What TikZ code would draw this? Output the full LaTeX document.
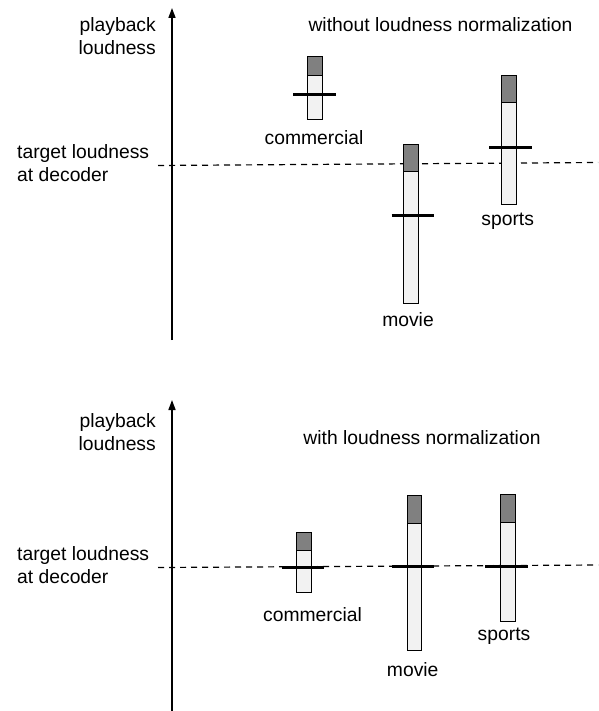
\documentclass[tikz,border=0pt]{standalone}
\usepackage{fontspec}
\setmainfont{Liberation Sans}
\usetikzlibrary{arrows.meta}
\definecolor{barlight}{HTML}{F2F2F2}
\definecolor{bardark}{HTML}{808080}
\tikzset{
    axis line/.style={
        line width=1.6pt,
        -{Triangle[length=10pt,width=7pt]}
    },
    target line/.style={
        line width=1.2pt,
        dash pattern=on 6pt off 5pt
    },
    bar head/.style={draw=black, line width=0.9pt, fill=bardark},
    bar body/.style={draw=black, line width=0.9pt, fill=barlight},
    level tick/.style={line width=3pt},
    label text/.style={
        font=\fontsize{19.3}{23}\selectfont,
        inner sep=0pt
    }
}
% left, right, top, split, bottom, tick y, tick left, tick right
\newcommand\loudbar[8]{
    \draw [bar head] (#1,#3) rectangle (#2,#4);
    \draw [bar body] (#1,#4) rectangle (#2,#5);
    \draw [level tick] (#7,#6) -- (#8,#6);
}

\begin{document}
\begin{tikzpicture}[x=1pt, y=-1pt]
                \useasboundingbox (0,0) rectangle (598,711);

                % without normalization
                \coordinate (axA-bot) at (172, 340);
                \coordinate (axA-top) at (172, 8);
                \coordinate (tgA-left) at (158, 165.5);
                \coordinate (tgA-right) at (598, 162.5);

                \node [label text, anchor=east, align=right] (yA) at (156, 36.5) {playback\\loudness};
                \node [label text, anchor=west, align=left] (tA) at (17, 163) {target loudness\\at decoder};
                \node [label text] (titleA) at (440.5, 25) {without loudness normalization};

                \draw [target line] (tgA-left) -- (tgA-right);
                \draw [axis line] (axA-bot) -- (axA-top);

                \loudbar{307.3}{322}{56.7}{75}{119}{94.3}{293}{336}
                \loudbar{403.7}{418.7}{144}{171.7}{303}{215.7}{391.7}{434.3}
                \loudbar{501.7}{516}{75}{102}{204}{147.7}{489}{531.7}

                \node [label text] (comA) at (314, 137.7) {commercial};
                \node [label text] (movA) at (408, 320) {movie};
                \node [label text] (spoA) at (507.7, 221.7) {sports};

                % with normalization
                \coordinate (axB-bot) at (172, 711);
                \coordinate (axB-top) at (172, 400);
                \coordinate (tgB-left) at (158, 567.5);
                \coordinate (tgB-right) at (598, 565);

                \node [label text, anchor=east, align=right] (yB) at (156, 432.5) {playback\\loudness};
                \node [label text, anchor=west, align=left] (tB) at (17, 565) {target loudness\\at decoder};
                \node [label text] (titleB) at (422, 438) {with loudness normalization};

                \draw [target line] (tgB-left) -- (tgB-right);
                \draw [axis line] (axB-bot) -- (axB-top);

                \loudbar{296.7}{311.3}{532}{550.7}{592.3}{567.3}{281.7}{324}
                \loudbar{407}{421.7}{495.7}{523.7}{650.7}{566}{392.3}{434.3}
                \loudbar{500}{515}{494.7}{522.7}{621.3}{566}{485.3}{527.7}

                \node [label text] (comB) at (312.5, 614.3) {commercial};
                \node [label text] (movB) at (412.7, 670) {movie};
                \node [label text] (spoB) at (504, 636.7) {sports};
            \end{tikzpicture}
\end{document}
